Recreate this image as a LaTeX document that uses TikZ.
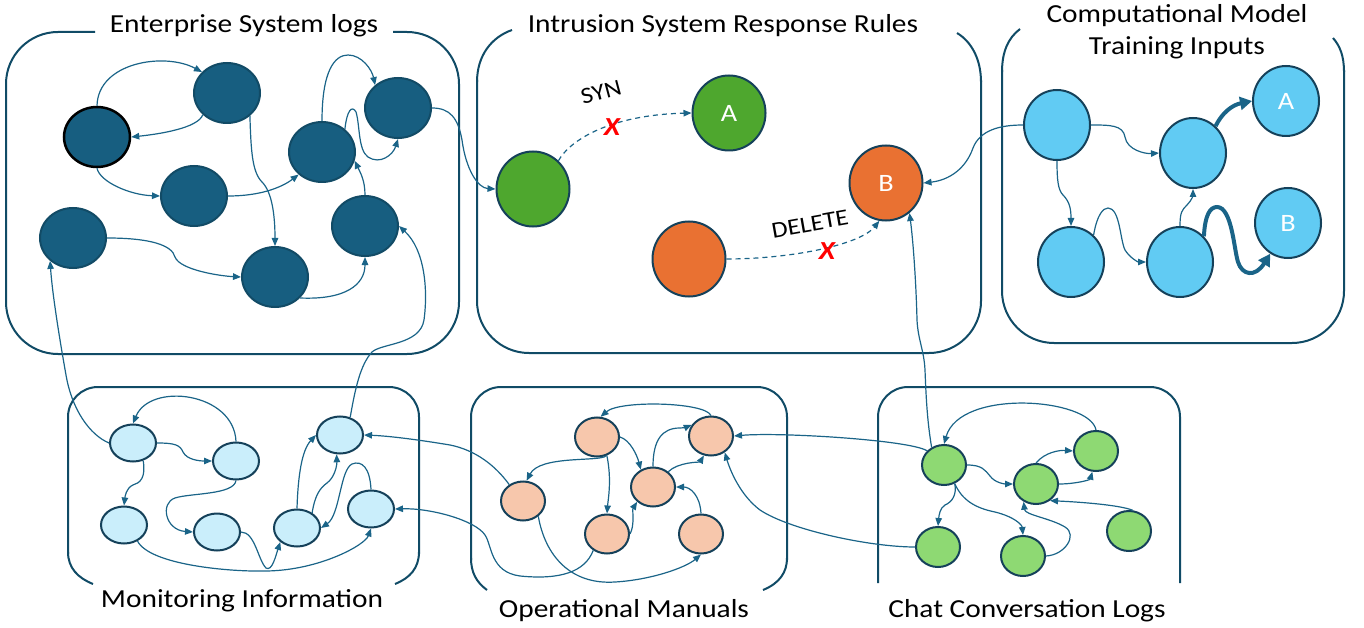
\documentclass[tikz,border=0pt]{standalone}
\usepackage{fontspec}
\setmainfont[FakeStretch=1.13]{Carlito}
\usetikzlibrary{shapes.geometric,arrows.meta}
\definecolor{edgec}{HTML}{1A6488}
\definecolor{panelc}{HTML}{104B66}
\definecolor{entfill}{HTML}{175E80}
\definecolor{entstroke}{HTML}{124B66}
\definecolor{nstroke}{HTML}{15415A}
\definecolor{rgreen}{HTML}{4EA72E}
\definecolor{rorange}{HTML}{E97132}
\definecolor{cmfill}{HTML}{61CBF3}
\definecolor{monfill}{HTML}{CAEEFB}
\definecolor{opfill}{HTML}{F7C7AC}
\definecolor{chatfill}{HTML}{8ED973}
\begin{document}
\begin{tikzpicture}[x=1pt,y=-1pt,
  panel/.style={draw=panelc,line width=2pt},
  conn/.style={draw=edgec,line width=1.2pt,-{Triangle[length=8pt,width=6.5pt]}},
  heavy/.style={draw=edgec,line width=4pt,-{Triangle[length=12pt,width=13pt]}},
  dashconn/.style={conn,dash pattern=on 5pt off 4pt},
  ttl/.style={font=\fontsize{26}{30}\selectfont,anchor=base,inner sep=0pt},
  entnode/.style={ellipse,draw=entstroke,line width=2pt,fill=entfill,minimum width=66pt,minimum height=60pt,inner sep=0pt},
  rulenode/.style={ellipse,draw=nstroke,line width=2pt,minimum width=73pt,minimum height=75pt,inner sep=0pt,text=white,font=\fontsize{25}{28}\selectfont},
  cmnode/.style={ellipse,draw=nstroke,line width=2pt,fill=cmfill,minimum width=66pt,minimum height=70pt,inner sep=0pt,text=white,font=\fontsize{25}{28}\selectfont},
  monnode/.style={ellipse,draw=nstroke,line width=2pt,fill=monfill,minimum width=46pt,minimum height=37pt,inner sep=0pt},
  opnode/.style={ellipse,draw=nstroke,line width=2pt,fill=opfill,minimum width=44pt,minimum height=39pt,inner sep=0pt},
  chatnode/.style={ellipse,draw=nstroke,line width=2pt,fill=chatfill,minimum width=44pt,minimum height=40pt,inner sep=0pt},
  lbl/.style={font=\fontsize{23}{26}\selectfont,inner sep=0pt},
  redx/.style={font=\fontsize{26}{28}\selectfont\bfseries\itshape,text=red,inner sep=0pt}
]
\useasboundingbox (0,0) rectangle (1364,628);

% ---------- panels ----------
\draw[panel,rounded corners=52] (95,32) -- (6,32) -- (6,354) -- (459,354) -- (459,32) -- (393,32);

\draw[panel] (512,30) .. controls (492,37) and (477,55) .. (477,82);
\draw[panel,rounded corners=52] (477,80) -- (477,353) -- (981,353) -- (981,80);
\draw[panel] (981,82) .. controls (981,60) and (972,42) .. (957,33);

\draw[panel] (1020,29) .. controls (1008,38) and (1002,52) .. (1002,72);
\draw[panel,rounded corners=52] (1002,70) -- (1002,343) -- (1344,343) -- (1344,70);
\draw[panel] (1344,72) .. controls (1344,56) and (1340,46) .. (1333,38);

\draw[panel] (93,584) .. controls (78,578) and (68,568) .. (68,552);
\draw[panel,rounded corners=30] (68,554) -- (68,387) -- (419,387) -- (419,554);
\draw[panel] (419,552) .. controls (419,568) and (410,578) .. (395,584);

\draw[panel] (487,590) .. controls (476,582) and (471,572) .. (471,558);
\draw[panel,rounded corners=30] (471,560) -- (471,387) -- (787,387) -- (787,560);
\draw[panel] (787,558) .. controls (787,572) and (780,583) .. (763,590);

\draw[panel,rounded corners=30] (878,583) -- (878,387) -- (1180,387) -- (1180,583);

% ---------- titles ----------
\node[ttl] (t1) at (244,33) {Enterprise System logs};
\node[ttl] (t2) at (723,33) {Intrusion System Response Rules};
\node[ttl] (t3a) at (1177,23) {Computational Model};
\node[ttl] (t3b) at (1177,55) {Training Inputs};
\node[ttl] (t4) at (242,607) {Monitoring Information};
\node[ttl] (t5) at (624,617) {Operational Manuals};
\node[ttl] (t6) at (1027,617) {Chat Conversation Logs};

% ---------- enterprise nodes ----------
\node[entnode,draw=black,line width=2.5pt] (E1) at (97,137) {};
\node[entnode] (E2) at (227,93) {};
\node[entnode] (E3) at (194,196) {};
\node[entnode] (E4) at (322,152) {};
\node[entnode] (E5) at (398,108) {};
\node[entnode] (E6) at (365,226) {};
\node[entnode] (E7) at (73,238) {};
\node[entnode] (E8) at (275,277) {};

% ---------- rule nodes ----------
\node[rulenode,fill=rgreen] (G1) at (533,189) {};
\node[rulenode,fill=rgreen] (RA) at (729,113) {A};
\node[rulenode,fill=rorange] (R1) at (689,259) {};
\node[rulenode,fill=rorange] (RB) at (886,183) {B};

% ---------- computational nodes ----------
\node[cmnode] (C1) at (1057,125) {};
\node[cmnode] (C2) at (1193,153) {};
\node[cmnode] (CA) at (1286,101) {A};
\node[cmnode] (C3) at (1071,262) {};
\node[cmnode] (C4) at (1180,262) {};
\node[cmnode] (CB) at (1288,223) {B};

% ---------- monitoring nodes ----------
\node[monnode] (M1) at (133,443) {};
\node[monnode] (M2) at (236,461) {};
\node[monnode] (M3) at (124,525) {};
\node[monnode] (M4) at (217,532) {};
\node[monnode] (M5) at (340,435) {};
\node[monnode] (M6) at (297,528) {};
\node[monnode] (M7) at (371,509) {};

% ---------- operational nodes ----------
\node[opnode] (O1) at (523,501) {};
\node[opnode] (O2) at (597,437) {};
\node[opnode] (O3) at (653,487) {};
\node[opnode] (O4) at (607,534) {};
\node[opnode] (O5) at (711,436) {};
\node[opnode] (O6) at (701,534) {};

% ---------- chat nodes ----------
\node[chatnode] (H1) at (944,465) {};
\node[chatnode] (H2) at (1036,484) {};
\node[chatnode] (H3) at (1096,451) {};
\node[chatnode] (H4) at (938,547) {};
\node[chatnode] (H5) at (1023,556) {};
\node[chatnode] (H6) at (1129,531) {};

% ---------- enterprise edges ----------
\draw[conn] (E1.north) .. controls (98,62) and (165,52) .. (E2.140);
\draw[conn] (E2.222) .. controls (198,128) and (160,134) .. (E1.east);
\draw[conn] (E1.south) .. controls (100,182) and (130,195) .. (E3.west);
\draw[conn] (E3.east) .. controls (265,196) and (285,185) .. (E4.224);
\draw[conn] (E2.315) .. controls (251,150) and (252,172) .. (262,182) .. controls (272,192) and (275,215) .. (E8.north);
\draw[conn] (E7.east) .. controls (150,238) and (172,245) .. (175,257) .. controls (180,270) and (220,276) .. (E8.west);
\draw[conn] (E8.320) .. controls (345,300) and (365,285) .. (E6.south);
\draw[conn] (E6.north) .. controls (365,180) and (360,172) .. (E4.-15);
\draw[conn] (E4.north) .. controls (322,70) and (335,55) .. (348,55) .. controls (362,55) and (372,70) .. (E5.135);
\draw[conn] (E4.45) .. controls (347,110) and (352,105) .. (356,112) .. controls (360,125) and (358,150) .. (368,157) .. controls (380,165) and (393,155) .. (E5.south);
\draw[conn] (E5.east) .. controls (450,108) and (458,118) .. (462,140) .. controls (466,170) and (478,188) .. (G1.west);
\draw[conn] (M1.west) .. controls (90,435) and (72,410) .. (66,375) .. controls (58,330) and (52,290) .. (E7.225);
\draw[conn] (M5.60) .. controls (355,390) and (360,365) .. (372,352) .. controls (382,343) and (420,345) .. (424,320) .. controls (428,290) and (425,250) .. (E6.east);

% ---------- rule edges ----------
\draw[dashconn] (G1.48) .. controls (570,140) and (610,115) .. (RA.west);
\draw[dashconn] (R1.east) .. controls (790,259) and (860,245) .. (RB.-100);
\node[lbl,rotate=15] (syn) at (601,92) {SYN};
\node[redx] (x1) at (612,127) {X};
\node[lbl,rotate=10] (del) at (810,224) {DELETE};
\node[redx] (x2) at (827,251) {X};
\draw[conn] (C1.west) .. controls (1000,125) and (980,130) .. (973,148) .. controls (966,168) and (950,180) .. (RB.east);
\draw[conn] (H1.125) .. controls (927,420) and (926,395) .. (925,370) .. controls (924,350) and (918,340) .. (917,320) .. controls (916,280) and (913,240) .. (RB.-52);

% ---------- computational edges ----------
\draw[conn] (C1.east) .. controls (1110,125) and (1123,125) .. (1125,137) .. controls (1127,150) and (1145,154) .. (C2.west);
\draw[conn] (C1.south) .. controls (1057,180) and (1058,190) .. (1063,195) .. controls (1070,202) and (1071,210) .. (C3.north);
\draw[conn] (C3.50) .. controls (1097,215) and (1103,208) .. (1108,208) .. controls (1120,208) and (1120,240) .. (1125,250) .. controls (1130,258) and (1138,262) .. (C4.west);
\draw[conn] (C4.north) .. controls (1180,212) and (1182,210) .. (1187,205) .. controls (1192,200) and (1193,195) .. (C2.south);
\draw[heavy] (C2.50) .. controls (1222,113) and (1232,105) .. (CA.west);
\draw[heavy] (C4.47) .. controls (1205,215) and (1210,207) .. (1217,207) .. controls (1232,207) and (1234,250) .. (1238,262) .. controls (1242,275) and (1255,278) .. (CB.240);

% ---------- monitoring edges ----------
\draw[conn] (M2.north) .. controls (234,392) and (150,382) .. (M1.north);
\draw[conn] (M1.east) .. controls (175,443) and (180,445) .. (183,452) .. controls (187,460) and (200,461) .. (M2.west);
\draw[conn] (M1.-60) .. controls (146,478) and (140,483) .. (133,485) .. controls (126,488) and (125,497) .. (M3.north);
\draw[conn] (M2.south) .. controls (234,495) and (190,493) .. (175,498) .. controls (160,503) and (165,530) .. (M4.west);
\draw[conn] (M4.east) .. controls (255,532) and (258,560) .. (266,568) .. controls (272,572) and (276,555) .. (M6.220);
\draw[conn] (M3.-50) .. controls (150,565) and (230,572) .. (267,571) .. controls (320,570) and (365,545) .. (M7.south);
\draw[conn] (M6.north) .. controls (298,475) and (302,450) .. (M5.west);
\draw[conn] (M6.45) .. controls (315,495) and (320,488) .. (327,483) .. controls (335,477) and (337,465) .. (M5.-100);
\draw[conn] (M7.north) .. controls (370,468) and (362,460) .. (352,464) .. controls (340,470) and (340,515) .. (M6.east);
\draw[conn] (O1.130) .. controls (495,465) and (475,450) .. (450,445) .. controls (420,440) and (390,436) .. (M5.east);
\draw[conn] (O4.230) .. controls (585,572) and (560,580) .. (520,576) .. controls (490,572) and (492,545) .. (485,535) .. controls (475,520) and (430,508) .. (M7.east);

% ---------- operational edges ----------
\draw[conn] (O5.north) .. controls (705,402) and (620,400) .. (O2.80);
\draw[conn] (O2.-65) .. controls (600,462) and (540,455) .. (O1.80);
\draw[conn] (O2.east) .. controls (630,440) and (637,455) .. (O3.125);
\draw[conn] (O2.-62) .. controls (612,480) and (608,500) .. (O4.north);
\draw[conn] (O4.east) .. controls (635,525) and (632,510) .. (O3.223);
\draw[conn] (O3.north) .. controls (653,440) and (662,428) .. (680,428) .. controls (686,428) and (689,426) .. (O5.150);
\draw[conn] (O3.45) .. controls (678,462) and (700,462) .. (O5.-110);
\draw[conn] (O6.north) .. controls (700,495) and (690,487) .. (O3.east);
\draw[conn] (O1.-45) .. controls (545,555) and (570,585) .. (615,582) .. controls (650,580) and (685,568) .. (O6.south);
\draw[conn] (H1.140) .. controls (910,440) and (780,432) .. (O5.east);
\draw[conn] (H4.west) .. controls (870,547) and (790,530) .. (760,510) .. controls (740,495) and (730,470) .. (O5.-50);

% ---------- chat edges ----------
\draw[conn] (H3.north) .. controls (1090,398) and (960,388) .. (H1.north);
\draw[conn] (H1.east) .. controls (982,465) and (985,470) .. (990,476) .. controls (995,483) and (1005,484) .. (H2.west);
\draw[conn] (H2.north) .. controls (1045,452) and (1060,450) .. (H3.west);
\draw[conn] (H2.east) .. controls (1075,484) and (1090,480) .. (H3.-100);
\draw[conn] (H1.-60) .. controls (957,495) and (952,502) .. (945,505) .. controls (940,508) and (939,515) .. (H4.north);
\draw[conn] (H1.-60) .. controls (962,500) and (975,508) .. (995,512) .. controls (1015,517) and (1022,525) .. (H5.north);
\draw[conn] (H5.east) .. controls (1065,555) and (1078,535) .. (1065,527) .. controls (1050,518) and (1025,515) .. (H2.235);
\draw[conn] (H6.80) .. controls (1120,505) and (1080,502) .. (H2.-50);
\end{tikzpicture}
\end{document}
